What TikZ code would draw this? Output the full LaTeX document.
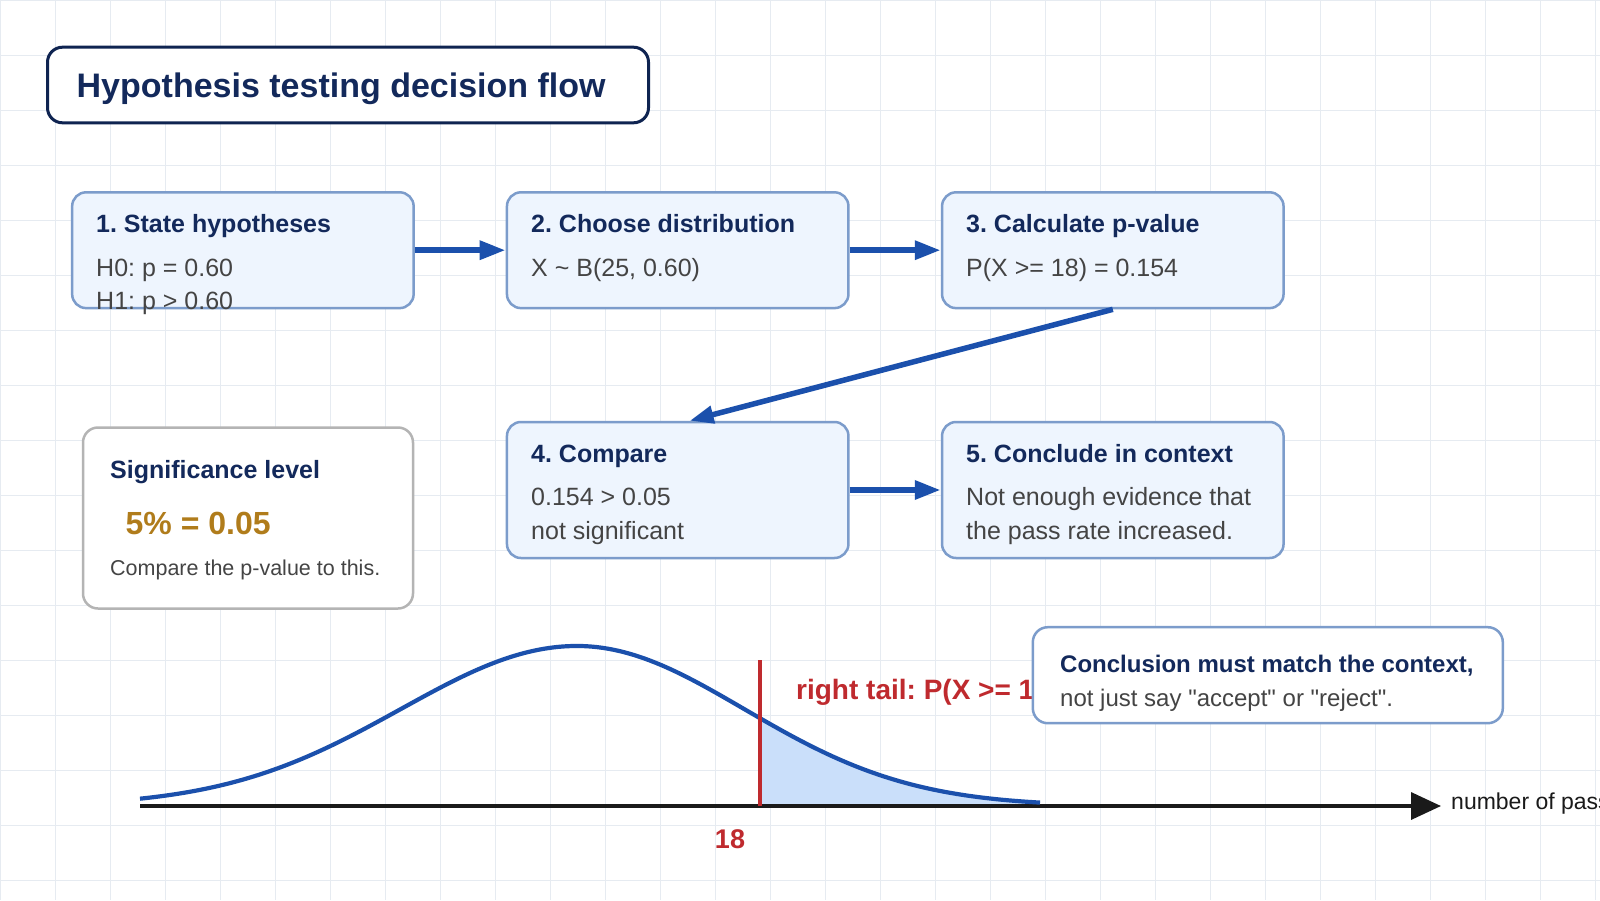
\documentclass[tikz,border=0pt]{standalone}
\usepackage{fontspec}
\setmainfont{Liberation Sans}
\usetikzlibrary{arrows.meta,calc}
\frenchspacing
\definecolor{navy}{HTML}{13295B}
\definecolor{titleborder}{HTML}{0F2451}
\definecolor{bodygray}{HTML}{444444}
\definecolor{boxborder}{HTML}{7C9CCB}
\definecolor{boxfill}{HTML}{EEF5FE}
\definecolor{arrowblue}{HTML}{1B50AC}
\definecolor{tailfill}{HTML}{CADFFA}
\definecolor{tailred}{HTML}{BF2A2E}
\definecolor{gold}{HTML}{B07C1B}
\definecolor{gridcol}{HTML}{E6EBF1}
\definecolor{sigborder}{HTML}{B4B4B4}
\definecolor{axisblack}{HTML}{1A1A1A}
\tikzset{
  gridline/.style={draw=gridcol, line width=1pt},
  flowbox/.style={draw=boxborder, fill=boxfill, line width=2.5pt, rounded corners=14pt, minimum width=341.5pt, inner sep=0pt},
  rowone/.style={flowbox, minimum height=115.8pt},
  rowtwo/.style={flowbox, minimum height=136pt},
  titlebox/.style={draw=titleborder, fill=white, line width=3pt, rounded corners=15pt, minimum width=601pt, minimum height=75.6pt, inner sep=0pt},
  sigbox/.style={draw=sigborder, fill=white, line width=2.5pt, rounded corners=15pt, minimum width=330pt, minimum height=181pt, inner sep=0pt},
  notebox/.style={draw=boxborder, fill=white, line width=2.5pt, rounded corners=15pt, minimum width=470pt, minimum height=96pt, inner sep=0pt},
  txt/.style={anchor=base west, inner sep=0pt},
  hd/.style={txt, font=\fontsize{25}{30}\selectfont\bfseries, text=navy},
  bd/.style={txt, font=\fontsize{25}{30}\selectfont, text=bodygray},
  flowarrow/.style={draw=arrowblue, line width=6pt, -{Triangle[length=26pt,width=18pt]}},
}
\begin{document}
\begin{tikzpicture}[x=1pt,y=-1pt]
\useasboundingbox (0,0) rectangle (1600,900);
\clip (0,0) rectangle (1600,900);
\fill[white] (0,0) rectangle (1600,900);
\foreach \gx in {0,55,...,1595} \draw[gridline] (\gx,0) -- (\gx,900);
\foreach \gy in {0,55,...,880} \draw[gridline] (0,\gy) -- (1600,\gy);

% title
\node[titlebox] (title) at (348,85) {};
\node[txt, font=\fontsize{34}{40}\selectfont\bfseries, text=navy] (titletxt) at (76.5,97) {Hypothesis testing decision flow};

% distribution sketch
\fill[tailfill] (760,806) -- plot[domain=760:1040, samples=60] (\x,{806-160*exp(-0.5*((\x-577)/167)*((\x-577)/167))}) -- (1040,806) -- cycle;
\coordinate (axL) at (140,806);
\coordinate (axR) at (1441,806);
\draw[draw=axisblack, line width=3.5pt, -{Triangle[length=30pt,width=27pt]}] (axL) -- (axR);
\draw[draw=arrowblue, line width=4.2pt] plot[domain=140:577, samples=90] (\x,{806-160*exp(-0.5*((\x-577)/176)*((\x-577)/176))}) -- plot[domain=577:1040, samples=90] (\x,{806-160*exp(-0.5*((\x-577)/167)*((\x-577)/167))});
\coordinate (rtop) at (760,660);
\coordinate (rbot) at (760,806);
\draw[draw=tailred, line width=3.5pt] (rtop) -- (rbot);
\node[txt, font=\fontsize{28}{32}\selectfont\bfseries, text=tailred] (tailtxt) at (796,699) {right tail: P(X >= 18)};
\node[anchor=base, inner sep=0pt, font=\fontsize{27}{32}\selectfont\bfseries, text=tailred] (eighteen) at (730,848) {18};
\node[txt, font=\fontsize{23}{28}\selectfont, text=axisblack] (axlab) at (1451,809) {number of passes};

% note
\node[notebox] (note) at (1267.8,675.2) {};
\node[txt, font=\fontsize{24}{28}\selectfont\bfseries, text=navy] (note1) at (1060,672) {Conclusion must match the context,};
\node[txt, font=\fontsize{24}{28}\selectfont, text=bodygray] (note2) at (1060,706) {not just say \textquotedbl accept\textquotedbl{} or \textquotedbl reject\textquotedbl.};

% significance box
\node[sigbox] (sig) at (248,518) {};
\node[hd] (sig1) at (110,478.4) {Significance level};
\node[txt, font=\fontsize{32}{36}\selectfont\bfseries, text=gold] (sig2) at (125.5,534) {5\% = 0.05};
\node[txt, font=\fontsize{21.5}{26}\selectfont, text=bodygray] (sig3) at (110,575) {Compare the p-value to this.};

% flow boxes
\node[rowone] (b1) at (242.9,250.2) {};
\node[rowone] (b2) at (677.7,250.2) {};
\node[rowone] (b3) at (1112.8,250.2) {};
\node[rowtwo] (b4) at (677.7,490) {};
\node[rowtwo] (b5) at (1112.8,490) {};

\node[hd] (b1h) at (96,232.3) {1. State hypotheses};
\node[bd] (b1a) at (96,276) {H0: p = 0.60};
\node[bd] (b1b) at (96,309.7) {H1: p > 0.60};

\node[hd] (b2h) at (531,232.3) {2. Choose distribution};
\node[bd] (b2a) at (531,276) {X \textasciitilde{} B(25, 0.60)};

\node[hd] (b3h) at (966,232.3) {3. Calculate p-value};
\node[bd] (b3a) at (966,276) {P(X >= 18) = 0.154};

\node[hd] (b4h) at (531,462) {4. Compare};
\node[bd] (b4a) at (531,505.6) {0.154 > 0.05};
\node[bd] (b4b) at (531,539.3) {not significant};

\node[hd] (b5h) at (966,462) {5. Conclude in context};
\node[bd] (b5a) at (966,505.6) {Not enough evidence that};
\node[bd] (b5b) at (966,539.3) {the pass rate increased.};

% connectors
\draw[flowarrow] (b1.east) -- (b2.west);
\draw[flowarrow] (b2.east) -- (b3.west);
\draw[draw=arrowblue, line width=5.5pt, -{Triangle[length=24pt,width=17pt]}] (b3.south) -- ($(b4.north)+(12,0)$);
\draw[flowarrow] (b4.east) -- (b5.west);
\end{tikzpicture}
\end{document}
